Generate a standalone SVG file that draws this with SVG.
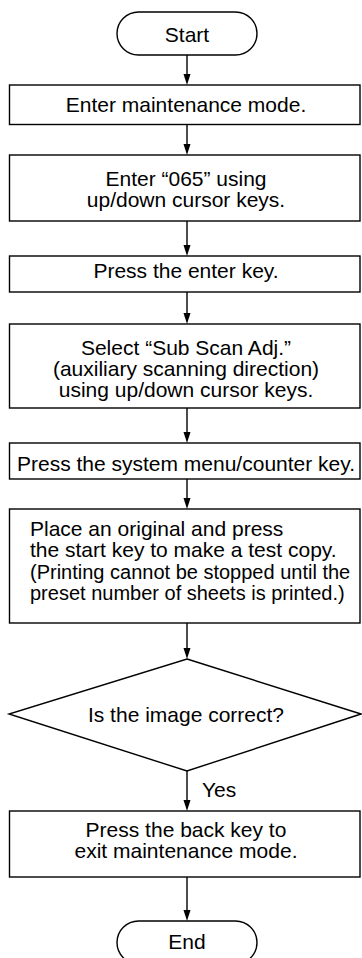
<svg xmlns="http://www.w3.org/2000/svg" width="362" height="958" viewBox="0 0 362 958">
<defs>
<style>
.s{fill:#fff;stroke:#000;stroke-width:1.4}
.t{font-family:"Liberation Sans",Arial,sans-serif;font-size:21px;fill:#000;text-anchor:middle}
.l{text-anchor:start}
.n{font-size:20px}
.c{stroke:#000;stroke-width:1.4;fill:none}
.h{fill:#000}
</style>
</defs>
<rect width="362" height="958" fill="#fff"/>
<g id="connectors">
<line class="c" x1="187" y1="55" x2="187" y2="80"/>
<path class="h" d="M183.5,74 L190.5,74 L187,85 Z"/>
<line class="c" x1="187" y1="124.5" x2="187" y2="150"/>
<path class="h" d="M183.5,144 L190.5,144 L187,155 Z"/>
<line class="c" x1="187" y1="221" x2="187" y2="251"/>
<path class="h" d="M183.5,245 L190.5,245 L187,256 Z"/>
<line class="c" x1="187" y1="292" x2="187" y2="319"/>
<path class="h" d="M183.5,313 L190.5,313 L187,324 Z"/>
<line class="c" x1="187" y1="408" x2="187" y2="438"/>
<path class="h" d="M183.5,432 L190.5,432 L187,443 Z"/>
<line class="c" x1="187" y1="479" x2="187" y2="504"/>
<path class="h" d="M183.5,498 L190.5,498 L187,509 Z"/>
<line class="c" x1="187" y1="623" x2="187" y2="654"/>
<path class="h" d="M183.5,648 L190.5,648 L187,659 Z"/>
<line class="c" x1="187" y1="771" x2="187" y2="806"/>
<path class="h" d="M183.5,800 L190.5,800 L187,811 Z"/>
<text class="t l" x="202" y="797">Yes</text>
<line class="c" x1="187" y1="877" x2="187" y2="916"/>
<path class="h" d="M183.5,910 L190.5,910 L187,921 Z"/>
</g>
<g id="start">
<rect class="s" x="117" y="12" width="140" height="43" rx="21.5"/>
<text class="t" x="187" y="42">Start</text>
</g>
<g id="step1">
<rect class="s" x="9.5" y="85" width="350.5" height="39.5"/>
<text class="t" x="186" y="112">Enter maintenance mode.</text>
</g>
<g id="step2">
<rect class="s" x="9.5" y="155" width="350.5" height="66"/>
<text class="t" x="186" y="186">Enter “065” using</text>
<text class="t" x="186" y="207">up/down cursor keys.</text>
</g>
<g id="step3">
<rect class="s" x="9.5" y="256" width="350.5" height="36"/>
<text class="t" x="186" y="278">Press the enter key.</text>
</g>
<g id="step4">
<rect class="s" x="9.5" y="324" width="350.5" height="84"/>
<text class="t" x="186" y="355">Select “Sub Scan Adj.”</text>
<text class="t" x="186" y="376">(auxiliary scanning direction)</text>
<text class="t" x="186" y="397">using up/down cursor keys.</text>
</g>
<g id="step5">
<rect class="s" x="9.5" y="443" width="350.5" height="36"/>
<text class="t" x="186" y="471">Press the system menu/counter key.</text>
</g>
<g id="step6">
<rect class="s" x="9.5" y="509" width="350.5" height="114"/>
<text class="t l" x="30" y="536">Place an original and press</text>
<text class="t l" x="30" y="557">the start key to make a test copy.</text>
<text class="t l n" x="30" y="579">(Printing cannot be stopped until the</text>
<text class="t l n" x="30" y="600">preset number of sheets is printed.)</text>
</g>
<g id="decision">
<polygon class="s" points="187,659 361,714 187,771 9,714"/>
<text class="t" x="186" y="722">Is the image correct?</text>
</g>
<g id="step7">
<rect class="s" x="9.5" y="811" width="350.5" height="66"/>
<text class="t" x="186" y="837">Press the back key to</text>
<text class="t" x="186" y="858">exit maintenance mode.</text>
</g>
<g id="end">
<rect class="s" x="117" y="921" width="140" height="43" rx="21.5"/>
<text class="t" x="187" y="949">End</text>
</g>
</svg>
